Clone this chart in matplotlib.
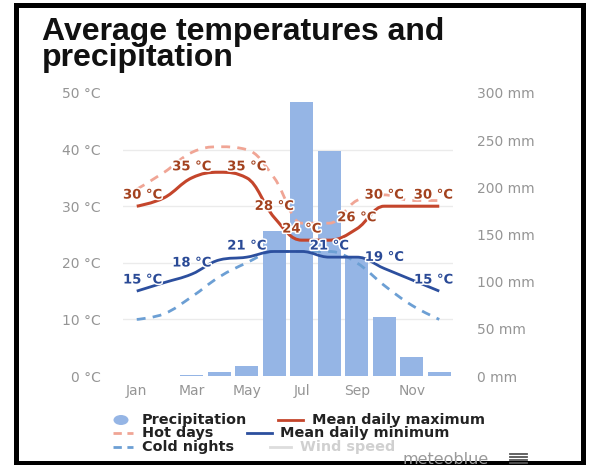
import numpy as np
import matplotlib
matplotlib.use("Agg")
import matplotlib.pyplot as plt
from matplotlib.lines import Line2D
from matplotlib.patches import Rectangle, Ellipse, PathPatch
from matplotlib.path import Path
import matplotlib.patheffects as pe

# ---------------- data ----------------
months = ["Jan", "Feb", "Mar", "Apr", "May", "Jun", "Jul", "Aug", "Sep", "Oct", "Nov", "Dec"]
precip_mm = [0.5, 0.5, 1, 4.5, 11, 154, 290, 239, 125, 63, 20, 4.5]
mean_max = [30, 31.5, 35, 36, 35, 28, 24, 24, 26, 30, 30, 30]
hot_days = [33, 36, 39.5, 40.5, 40, 35, 27, 27, 31, 32, 31, 31]
mean_min = [15, 16.5, 18, 20.5, 21, 22, 22, 21, 21, 19, 17, 15]
cold_nights = [10, 11, 14, 17.5, 20, 22, 22, 22, 20, 16, 12.5, 10]
max_label_idx = [0, 2, 4, 5, 6, 8, 9, 11]
min_label_idx = [0, 2, 4, 7, 9, 11]
temp_ticks = [0, 10, 20, 30, 40, 50]
precip_ticks = [0, 50, 100, 150, 200, 250, 300]
x_tick_idx = [0, 2, 4, 6, 8, 10]

# ---------------- style ----------------
W, H = 598, 465
C_BAR = "#95b5e5"
C_MAX = "#c4452b"
C_HOT = "#f0a595"
C_MIN = "#2c4f9e"
C_COLD = "#6c9fd4"
C_MAX_LBL = "#a3421f"
C_MIN_LBL = "#2a4a96"
C_TICK = "#959595"


def fx(x):
    return x / W


def fy(y):
    return 1 - y / H


def hc_spline(xs, ys):
    pts = list(zip(xs, ys))
    n = len(pts)
    left = [None] * n
    right = [None] * n
    s = 1.5
    d = s + 1
    for i in range(1, n - 1):
        lx, ly = pts[i - 1]
        x, y = pts[i]
        nx, ny = pts[i + 1]
        lcx, lcy = (s * x + lx) / d, (s * y + ly) / d
        rcx, rcy = (s * x + nx) / d, (s * y + ny) / d
        corr = ((rcy - lcy) * (rcx - x)) / (rcx - lcx) + y - rcy
        lcy += corr
        rcy += corr
        if lcy > ly and lcy > y:
            lcy = max(ly, y); rcy = 2 * y - lcy
        elif lcy < ly and lcy < y:
            lcy = min(ly, y); rcy = 2 * y - lcy
        if rcy > ny and rcy > y:
            rcy = max(ny, y); lcy = 2 * y - rcy
        elif rcy < ny and rcy < y:
            rcy = min(ny, y); lcy = 2 * y - rcy
        left[i] = (lcx, lcy)
        right[i] = (rcx, rcy)
    verts = [pts[0]]
    codes = [Path.MOVETO]
    for i in range(1, n):
        c1 = right[i - 1] if right[i - 1] is not None else pts[i - 1]
        c2 = left[i] if left[i] is not None else pts[i]
        verts += [c1, c2, pts[i]]
        codes += [Path.CURVE4] * 3
    return Path(verts, codes)


fig = plt.figure(figsize=(W / 100, H / 100), dpi=100)
fig.patch.set_facecolor("white")

plot_l, plot_r, plot_t, plot_b = 123, 453, 93, 376
ax_p = fig.add_axes([fx(plot_l), fy(plot_b), (plot_r - plot_l) / W, (plot_b - plot_t) / H])
ax_t = ax_p.twinx()

x = np.arange(len(months))

# precipitation bars (behind)
ax_p.bar(x, precip_mm, width=0.82, color=C_BAR, zorder=2)
ax_p.set_ylim(0, 300)
ax_p.set_xlim(-0.5, len(months) - 0.5)
ax_p.yaxis.tick_right()
ax_p.set_yticks(precip_ticks)
ax_p.set_yticklabels([f"{v} mm" for v in precip_ticks])
# grid lines follow the temperature ticks (50 °C == 300 mm)
ax_p.set_yticks([t * 6 for t in temp_ticks], minor=True)
ax_p.grid(True, which="minor", axis="y", color="#ebebeb", linewidth=1, zorder=0)
ax_p.set_axisbelow(True)
ax_p.tick_params(axis="y", which="both", length=0, pad=17, labelsize=10, labelcolor=C_TICK)
ax_p.set_xticks([x[i] for i in x_tick_idx])
ax_p.set_xticklabels([months[i] for i in x_tick_idx])
ax_p.tick_params(axis="x", length=0, pad=6, labelsize=10, labelcolor=C_TICK)
for sp in ax_p.spines.values():
    sp.set_visible(False)

# temperature lines
ax_t.set_ylim(0, 50)
ax_t.yaxis.tick_left()
ax_t.set_yticks(temp_ticks)
ax_t.set_yticklabels([f"{v} °C" for v in temp_ticks])
ax_t.tick_params(axis="y", length=0, pad=16, labelsize=10, labelcolor=C_TICK)
for sp in ax_t.spines.values():
    sp.set_visible(False)

series = [
    (cold_nights, C_COLD, (0, (3.2, 2.6)), 2.0),
    (hot_days, C_HOT, (0, (3.2, 2.6)), 2.0),
    (mean_min, C_MIN, "solid", 2.0),
    (mean_max, C_MAX, "solid", 2.2),
]
for vals, col, ls, lw in series:
    patch = PathPatch(hc_spline(x, vals), fill=False, edgecolor=col, linewidth=lw,
                      linestyle=ls, capstyle="butt", zorder=3)
    ax_t.add_patch(patch)

halo = [pe.withStroke(linewidth=2.2, foreground="white")]


def add_labels(vals, idxs, col):
    for i in idxs:
        txt = f"{vals[i]:g} °C"
        if i == 0:
            xx, ha = -0.5, "left"
        elif i == len(vals) - 1:
            xx, ha = len(vals) - 0.5, "right"
        else:
            xx, ha = x[i], "center"
        ax_t.annotate(txt, (xx, vals[i]), xytext=(0, 8), textcoords="offset points",
                      ha=ha, va="center", fontsize=9.5, fontweight="bold", color=col,
                      path_effects=halo, zorder=5, annotation_clip=False)


add_labels(mean_max, max_label_idx, C_MAX_LBL)
add_labels(mean_min, min_label_idx, C_MIN_LBL)

# ---------------- title ----------------
fig.text(fx(42), fy(17), "Average temperatures and\nprecipitation", fontsize=23,
         fontweight="bold", family="Liberation Sans", color="#111111", va="top",
         ha="left", linespacing=0.84)

# ---------------- legend ----------------
LFS = 10.4
fig.add_artist(Ellipse((fx(121), fy(420)), 15 / W, 10 / H, transform=fig.transFigure,
                       facecolor=C_BAR, edgecolor="none"))
legend_lines = [
    (113, 133, 433, C_HOT, (0, (3, 2))),
    (113, 133, 447, C_COLD, (0, (3, 2))),
    (278, 303, 420, C_MAX, "solid"),
    (247, 272, 433, C_MIN, "solid"),
    (270, 291, 447, "#dddddd", "solid"),
]
for x0, x1, yy, col, ls in legend_lines:
    fig.add_artist(Line2D([fx(x0), fx(x1)], [fy(yy), fy(yy)], transform=fig.transFigure,
                          color=col, linewidth=2, linestyle=ls))
legend_texts = [
    (142, 420, "Precipitation", "#222222"),
    (142, 433, "Hot days", "#222222"),
    (142, 447, "Cold nights", "#222222"),
    (312, 420, "Mean daily maximum", "#222222"),
    (280, 433, "Mean daily minimum", "#222222"),
    (300, 447, "Wind speed", "#d0d0d0"),
]
for xx, yy, t, col in legend_texts:
    fig.text(fx(xx), fy(yy), t, fontsize=LFS, fontweight="bold", color=col,
             va="center", ha="left")

fig.text(fx(403), fy(459), "meteoblue", fontsize=11.5, color="#9a9a9a", va="center", ha="left")
for yy in [453.5, 456.5, 459.5, 462.5]:
    fig.add_artist(Line2D([fx(510), fx(527)], [fy(yy), fy(yy)], transform=fig.transFigure,
                          color="#555555", linewidth=1.3))

# frame
fig.add_artist(Rectangle((fx(15.5), fy(462.5)), (583 - 15.5) / W, (462.5 - 5.5) / H,
                         transform=fig.transFigure, fill=False, edgecolor="black",
                         linewidth=3.6))

fig.savefig("out.png", dpi=100, facecolor="white")
